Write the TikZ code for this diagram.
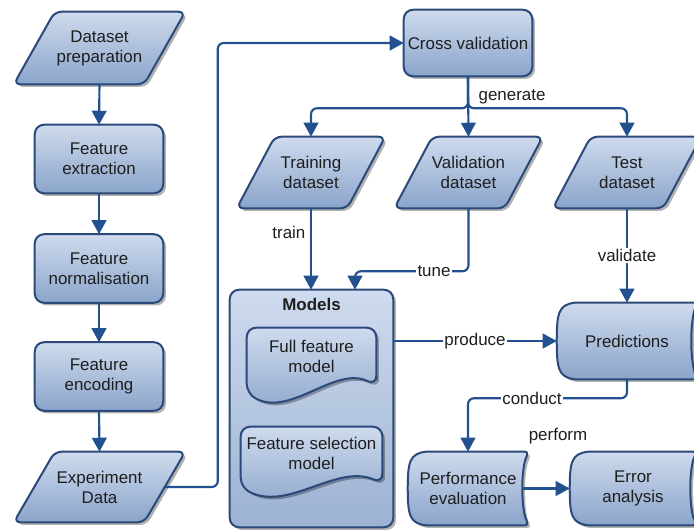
\documentclass[tikz,border=0pt]{standalone}
\usepackage{fontspec}
\setmainfont{Liberation Sans}
\usetikzlibrary{arrows.meta,calc,shadows}
\pgfdeclarelayer{background}
\pgfsetlayers{background,main}
\definecolor{fillTop}{HTML}{CFDBEE}
\definecolor{fillBot}{HTML}{8AA4CA}
\definecolor{boxBot}{HTML}{9CB2D2}
\definecolor{edgeC}{HTML}{2B4A7A}
\definecolor{lineC}{HTML}{23508E}
\definecolor{txtC}{HTML}{1E1E1E}
\tikzset{
  shp/.style={draw=edgeC, line width=1.5pt, top color=fillTop, bottom color=fillBot,
    drop shadow={shadow xshift=2pt, shadow yshift=-2pt, opacity=0.3, fill=black}},
  txt/.style={draw=none, inner sep=0pt, align=center, text=txtC, font=\fontsize{12.7}{15}\selectfont},
  conn/.style={draw=lineC, line width=1.6pt, -{Triangle[width=11pt,length=10.5pt]}, rounded corners=4.5pt},
  lbl/.style={font=\fontsize{12.7}{15}\selectfont, text=txtC, inner sep=1pt},
  onln/.style={lbl, fill=white},
}
\newcommand\parashape[2]{%
  \path[shp, rounded corners=5pt] ($(#1.north west)+(#2,0)$) -- ($(#1.north east)+(#2,0)$)
    -- ($(#1.south east)-(#2,0)$) -- ($(#1.south west)-(#2,0)$) -- cycle;}
\newcommand\rectshape[2][]{%
  \path[shp, rounded corners=7pt, #1] (#2.north west) rectangle (#2.south east);}
\newcommand\storedshape[1]{%
  \path[shp] ($(#1.north west)+(18,0)$) -- ($(#1.north east)+(-3,0)$)
    .. controls ($(#1.north east)+(0,0)$) and ($(#1.north east)+(-1,4)$) .. ($(#1.north east)+(-3,8)$)
    .. controls ($(#1.east)+(-7,-14)$) and ($(#1.east)+(-7,14)$) .. ($(#1.south east)+(-3,-8)$)
    .. controls ($(#1.south east)+(-1,-4)$) and ($(#1.south east)+(0,0)$) .. ($(#1.south east)+(-3,0)$)
    -- ($(#1.south west)+(18,0)$)
    .. controls ($(#1.south west)+(2,-2)$) and ($(#1.south west)+(0,-10)$) .. (#1.west)
    .. controls ($(#1.north west)+(0,10)$) and ($(#1.north west)+(2,2)$) .. cycle;}
\newcommand\docshape[5]{%
  \path[shp, rounded corners=7pt] ($(#1.south east)+(0,#3)$) -- (#1.north east) -- (#1.north west)
    -- ($(#1.south west)+(0,#2)$)
    .. controls ($(#1.south west)+#4$) and ($(#1.south west)+#5$) .. cycle;}
\begin{document}
\begin{tikzpicture}[x=0.75pt,y=-0.75pt]
\useasboundingbox (0,0) rectangle (694,530);
% nodes
\node[txt, minimum width=97.5pt, minimum height=54pt] (prep) at (99.5,48) {Dataset\\preparation};
\node[txt, minimum width=96pt, minimum height=51pt] (extr) at (99,159) {Feature\\extraction};
\node[txt, minimum width=96pt, minimum height=51pt] (norm) at (99,268.5) {Feature\\normalisation};
\node[txt, minimum width=96pt, minimum height=51pt] (enc) at (99,376.5) {Feature\\encoding};
\node[txt, minimum width=97.5pt, minimum height=52.5pt] (exp) at (99.5,487) {Experiment\\Data};
\node[txt, minimum width=96pt, minimum height=49.5pt] (cross) at (468,43) {Cross validation};
\node[txt, minimum width=82.5pt, minimum height=53.25pt] (train) at (311,172.5) {Training\\dataset};
\node[txt, minimum width=82.5pt, minimum height=53.25pt] (val) at (468.5,172.5) {Validation\\dataset};
\node[txt, minimum width=82.5pt, minimum height=53.25pt] (test) at (627,172.5) {Test\\dataset};
\node[txt, minimum width=122.25pt, minimum height=177.75pt] (models) at (311.5,408.5) {};
\node[txt, font=\fontsize{12.7}{15}\selectfont\bfseries] (mtitle) at (311.5,304) {Models};
\node[txt, minimum width=96.75pt, minimum height=42pt] (full) at (311.5,356) {Full feature\\model};
\node[txt, minimum width=105.75pt, minimum height=39pt] (sel) at (311.5,453) {Feature selection\\model};
\node[txt, minimum width=105pt, minimum height=57pt] (pred) at (627,341) {Predictions};
\node[txt, minimum width=90pt, minimum height=54.75pt] (perf) at (468,488.5) {Performance\\evaluation};
\node[txt, minimum width=94.5pt, minimum height=54.75pt] (err) at (633,488.5) {Error\\analysis};
% shapes
\begin{pgfonlayer}{background}
  \parashape{prep}{20.5}
  \rectshape{extr}
  \rectshape{norm}
  \rectshape{enc}
  \parashape{exp}{20.5}
  \rectshape{cross}
  \parashape{train}{19}
  \parashape{val}{19}
  \parashape{test}{19}
  \rectshape[bottom color=boxBot]{models}
  \docshape{full}{9}{1}{(43,34)}{(88,-19)}
  \docshape{sel}{8}{4}{(47,33)}{(96,-16)}
  \storedshape{pred}
  \storedshape{perf}
  \storedshape{err}
\end{pgfonlayer}
% connectors
\draw[conn] (prep.south) -- (extr.north);
\draw[conn] (extr.south) -- (norm.north);
\draw[conn] (norm.south) -- (enc.north);
\draw[conn] (enc.south) -- (exp.north);
\draw[conn] (exp.east) -- ++(53,0) |- (cross.west);
\draw[conn] (cross.south) -- (val.north);
\draw[conn] (cross.south) -- ++(0,32) -| (train.north);
\draw[conn] (cross.south) -- ++(0,32) -| (test.north);
\node[lbl, anchor=west] (genlbl) at (477,97) {generate};
\draw[conn] (train.south) -- (train.south |- models.north);
\node[lbl, anchor=east] (trainlbl) at (307,232) {train};
\draw[conn] (val.south) -- ++(0,63) -| ($(models.north)+(43.5,0)$);
\node[onln] (tunelbl) at (434,271) {tune};
\draw[conn] (test.south) -- (pred.north) node[onln, midway] (vallbl) {validate};
\draw[conn] (pred.west -| models.east) -- (pred.west) node[onln, midway] (prodlbl) {produce};
\draw[conn] (pred.south) -- ++(0,19) -| (perf.north);
\node[onln] (condlbl) at (532,398) {conduct};
\draw[conn] ($(perf.east)+(-5,0)$) -- (err.west);
\node[lbl] (perflbl) at (558,436) {perform};
\end{tikzpicture}
\end{document}
